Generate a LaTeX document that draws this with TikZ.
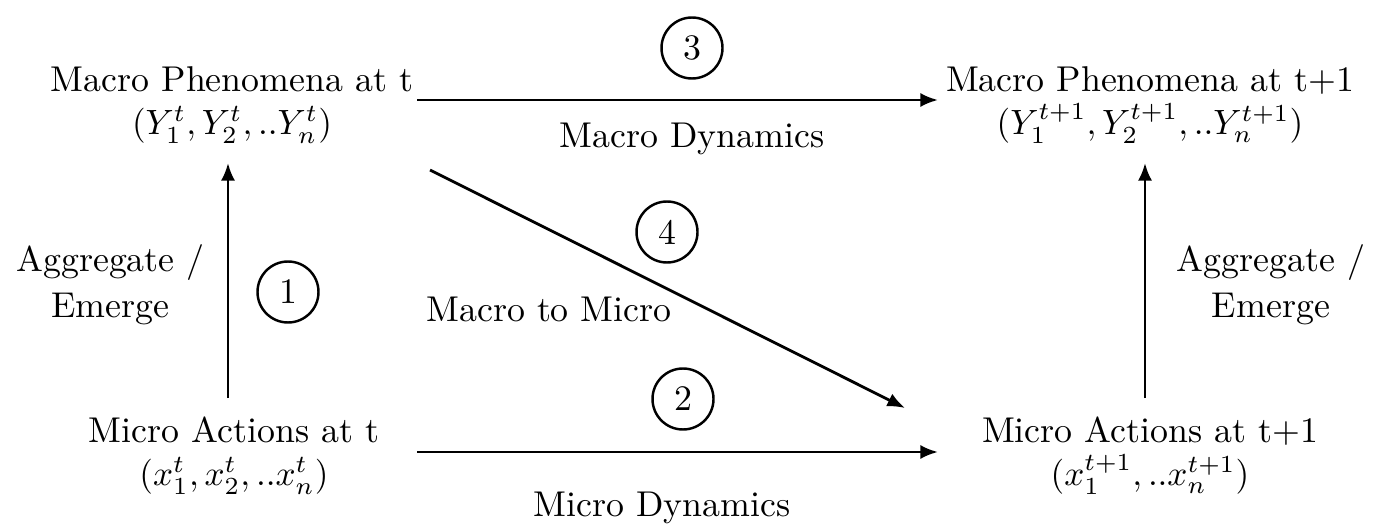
\documentclass[tikz,border=0pt]{standalone}
\usetikzlibrary{arrows.meta}
\begin{document}
\begin{tikzpicture}
\tikzset{
  every node/.style={font=\fontsize{10.2}{12.2}\selectfont},
  statebox/.style={align=center, inner sep=1.5pt},
  lbl/.style={anchor=base, inner sep=0pt},
  num/.style={circle, draw, line width=0.7pt, minimum size=0.61cm, inner sep=0pt},
  arr/.style={line width=0.8pt, -{Latex[length=5pt,width=4pt]}}
}
\useasboundingbox (0,0) rectangle (13.8,5.28);

% state nodes
\node[statebox] (mt)   at (2.32,4.23) {Macro Phenomena at t\\$(Y_1^t, Y_2^t, ..Y_n^t)$};
\node[statebox] (mt1)  at (11.50,4.23) {Macro Phenomena at t+1\\$(Y_1^{t+1}, Y_2^{t+1}, ..Y_n^{t+1})$};
\node[statebox] (mi)   at (2.34,0.725) {Micro Actions at t\\$(x_1^t, x_2^t, ..x_n^t)$};
\node[statebox] (mi1)  at (11.50,0.725) {Micro Actions at t+1\\$(x_1^{t+1}, ..x_n^{t+1})$};

% connector end points
\coordinate (topS) at (4.17,4.28);
\coordinate (topE) at (9.38,4.28);
\coordinate (botS) at (4.17,0.76);
\coordinate (botE) at (9.38,0.76);
\coordinate (lS) at (2.28,1.30);
\coordinate (lE) at (2.28,3.65);
\coordinate (rS) at (11.45,1.30);
\coordinate (rE) at (11.45,3.65);
\coordinate (dS) at (4.30,3.58);
\coordinate (dE) at (9.05,1.20);

\draw[arr] (topS) -- (topE);
\draw[arr] (botS) -- (botE);
\draw[arr] (lS) -- (lE);
\draw[arr] (rS) -- (rE);
\draw[arr] (dS) -- (dE);

% circled numbers
\node[num] (n3) at (6.92,4.80) {3};
\node[num] (n4) at (6.67,2.96) {4};
\node[num] (n2) at (6.83,1.29) {2};
\node[num] (n1) at (2.88,2.36) {1};

% labels
\node[lbl] (macdyn) at (6.92,3.80) {Macro Dynamics};
\node[lbl] (micdyn) at (6.62,0.12) {Micro Dynamics};
\node[lbl] (m2m) at (5.49,2.07) {Macro to Micro};
\node[statebox] (aggL) at (1.105,2.43) {Aggregate /\\[1pt]Emerge};
\node[statebox] (aggR) at (12.71,2.43) {Aggregate /\\[1pt]Emerge};
\end{tikzpicture}
\end{document}
